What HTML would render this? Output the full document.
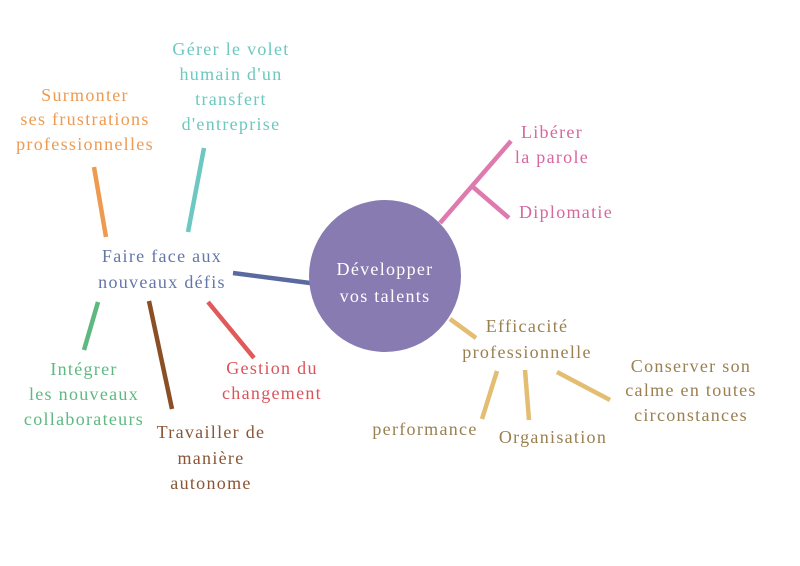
<!DOCTYPE html>
<html><head><meta charset="utf-8"><style>
html,body{margin:0;padding:0;background:#fff}
svg{display:block}
text{font-family:"Liberation Serif",serif;font-size:18px;letter-spacing:1.3px;text-anchor:middle}
</style></head><body>
<svg width="800" height="566" viewBox="0 0 800 566">
<g stroke-width="4.5" stroke-linecap="butt" fill="none">
<line x1="440" y1="223" x2="511" y2="141" stroke="#de7aae"/>
<line x1="473" y1="187" x2="509" y2="218" stroke="#de7aae"/>
<line x1="450" y1="319" x2="476" y2="338" stroke="#e2bd72"/>
<line x1="233" y1="273" x2="310" y2="283" stroke="#5a6aa0"/>
<line x1="94" y1="167" x2="106" y2="237" stroke="#ee9a50"/>
<line x1="204" y1="148" x2="188" y2="232" stroke="#6cc8c0"/>
<line x1="98" y1="302" x2="84" y2="350" stroke="#5eb880"/>
<line x1="149" y1="301" x2="172" y2="409" stroke="#8a4f25"/>
<line x1="208" y1="302" x2="254" y2="358" stroke="#e05a5a"/>
<line x1="497" y1="371" x2="482" y2="419" stroke="#e2bd72"/>
<line x1="525" y1="370" x2="529" y2="420" stroke="#e2bd72"/>
<line x1="557" y1="372" x2="610" y2="400" stroke="#e2bd72"/>
</g>
<circle cx="385" cy="276" r="76" fill="#877bb1"/>
<text x="385" y="275" fill="#fff" font-size="22" letter-spacing="1.5">Développer</text>
<text x="385" y="302" fill="#fff" font-size="22" letter-spacing="1.5">vos talents</text>
<g fill="#d6679f"><text x="552" y="138">Libérer</text><text x="552" y="163">la parole</text><text x="566" y="218">Diplomatie</text></g>
<g fill="#6576a8"><text x="162" y="262">Faire face aux</text><text x="162" y="288">nouveaux défis</text></g>
<g fill="#ee9a50"><text x="85" y="101">Surmonter</text><text x="85" y="125">ses frustrations</text><text x="85" y="150">professionnelles</text></g>
<g fill="#6cc8c0"><text x="231" y="55">Gérer le volet</text><text x="231" y="80">humain d'un</text><text x="231" y="105">transfert</text><text x="231" y="130">d'entreprise</text></g>
<g fill="#5eb880"><text x="84" y="375">Intégrer</text><text x="84" y="400">les nouveaux</text><text x="84" y="425">collaborateurs</text></g>
<g fill="#8a5535"><text x="211" y="438">Travailler de</text><text x="211" y="464">manière</text><text x="211" y="489">autonome</text></g>
<g fill="#d9545a"><text x="272" y="374">Gestion du</text><text x="272" y="399">changement</text></g>
<g fill="#9a8050"><text x="527" y="332">Efficacité</text><text x="527" y="358">professionnelle</text>
<text x="425" y="435">performance</text><text x="553" y="443">Organisation</text>
<text x="691" y="372">Conserver son</text><text x="691" y="396">calme en toutes</text><text x="691" y="421">circonstances</text></g>
</svg>
</body></html>
